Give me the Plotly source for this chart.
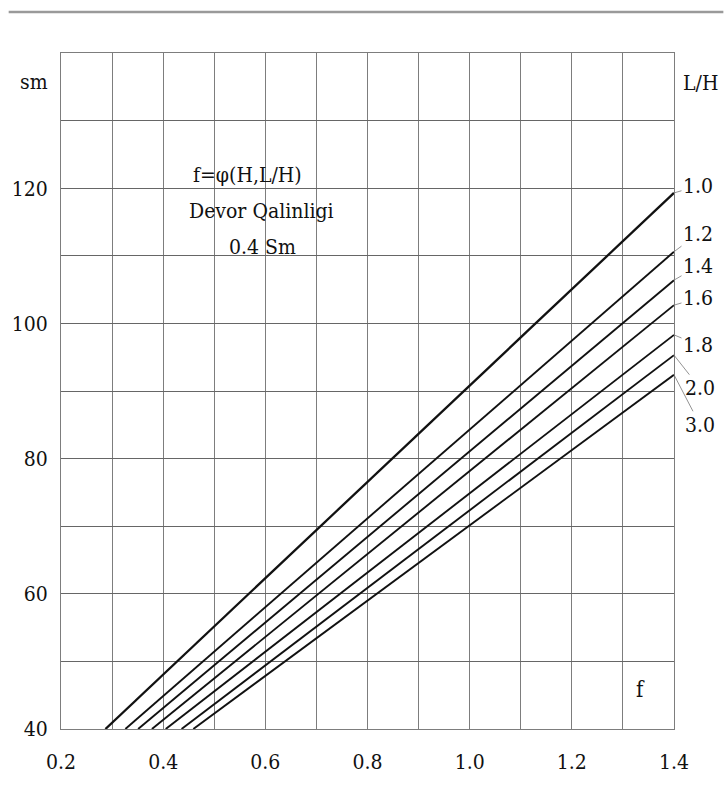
import plotly.graph_objects as go

# L/H ratio of each curve
lh_labels = ["1.0", "1.2", "1.4", "1.6", "1.8", "2.0", "3.0"]
# f where each curve leaves the bottom (sm = 40)
f_at_bottom = [0.287, 0.326, 0.351, 0.378, 0.405, 0.436, 0.459]
# sm reached by each curve at the right edge (f = 1.4)
sm_at_right = [119.3, 110.6, 106.4, 102.7, 98.3, 95.3, 92.4]
sm_bottom = 40
f_right = 1.4

# axis ticks
x_tick_vals = [0.2, 0.3, 0.4, 0.5, 0.6, 0.7, 0.8, 0.9, 1.0, 1.1, 1.2, 1.3, 1.4]
x_tick_text = ["0.2", "", "0.4", "", "0.6", "", "0.8", "", "1.0", "", "1.2", "", "1.4"]
y_tick_vals = [40, 50, 60, 70, 80, 90, 100, 110, 120, 130, 140]
y_tick_text = ["40", "", "60", "", "80", "", "100", "", "120", "", ""]

FONT = "DejaVu Serif Condensed, Liberation Sans Narrow, Liberation Serif, serif"
INK = "#111111"
GRID = "#7d7d7d"

fig = go.Figure()

for i, lab in enumerate(lh_labels):
    fig.add_trace(go.Scatter(
        x=[f_at_bottom[i], f_right],
        y=[sm_bottom, sm_at_right[i]],
        mode="lines",
        line=dict(color=INK, width=2.3 if i == 0 else 1.9),
        name=lab,
        showlegend=False,
        hoverinfo="skip",
    ))

# curve labels with thin leader lines from each curve end
label_offsets = [(24, -7), (24, -18), (24, -14), (24, -7), (24, 10), (26, 33), (26, 50)]
for i, lab in enumerate(lh_labels):
    ax, ay = label_offsets[i]
    fig.add_annotation(
        x=f_right, y=sm_at_right[i], xref="x", yref="y",
        text=lab, showarrow=True, arrowhead=0, arrowwidth=0.8,
        arrowcolor="#777777", ax=ax, ay=ay, standoff=0,
        font=dict(family=FONT, size=21, color=INK),
    )


def caption(x, y, txt, size=21):
    fig.add_annotation(
        x=x, y=y, xref="paper", yref="paper", text=txt, showarrow=False,
        xanchor="center", yanchor="middle",
        font=dict(family=FONT, size=size, color=INK),
    )


# title block inside the plot
caption(0.304, 0.8195, "f=φ(H,L/H)")
caption(0.327, 0.766, "Devor Qalinligi")
caption(0.329, 0.713, "0.4 Sm")

# axis captions
caption(-0.044, 0.957, "sm")
caption(1.0435, 0.9556, "L/H")
caption(0.945, 0.0577, "f", size=22)

# rule across the top of the page
fig.add_shape(type="line", xref="paper", yref="paper",
              x0=-53 / 621, x1=(724 - 53) / 621,
              y0=1 + 41 / 676, y1=1 + 41 / 676,
              line=dict(color="#9a9a9a", width=2.5))

fig.update_xaxes(
    range=[0.2, 1.4], tickmode="array", tickvals=x_tick_vals, ticktext=x_tick_text,
    showgrid=True, gridcolor=GRID, gridwidth=1, zeroline=False,
    showline=True, linecolor=GRID, linewidth=1, mirror=True,
    ticks="", ticklabelstandoff=14,
    tickfont=dict(family=FONT, size=21, color=INK),
)
fig.update_yaxes(
    range=[40, 140], tickmode="array", tickvals=y_tick_vals, ticktext=y_tick_text,
    showgrid=True, gridcolor="#666666", gridwidth=1, zeroline=False,
    showline=True, linecolor=GRID, linewidth=1, mirror=True,
    ticks="", ticklabelstandoff=8,
    tickfont=dict(family=FONT, size=21, color=INK),
)

fig.update_layout(
    width=724, height=798,
    margin=dict(l=53, r=50, t=53, b=69),
    paper_bgcolor="white", plot_bgcolor="white",
    showlegend=False,
)

fig.write_html("out.html")
